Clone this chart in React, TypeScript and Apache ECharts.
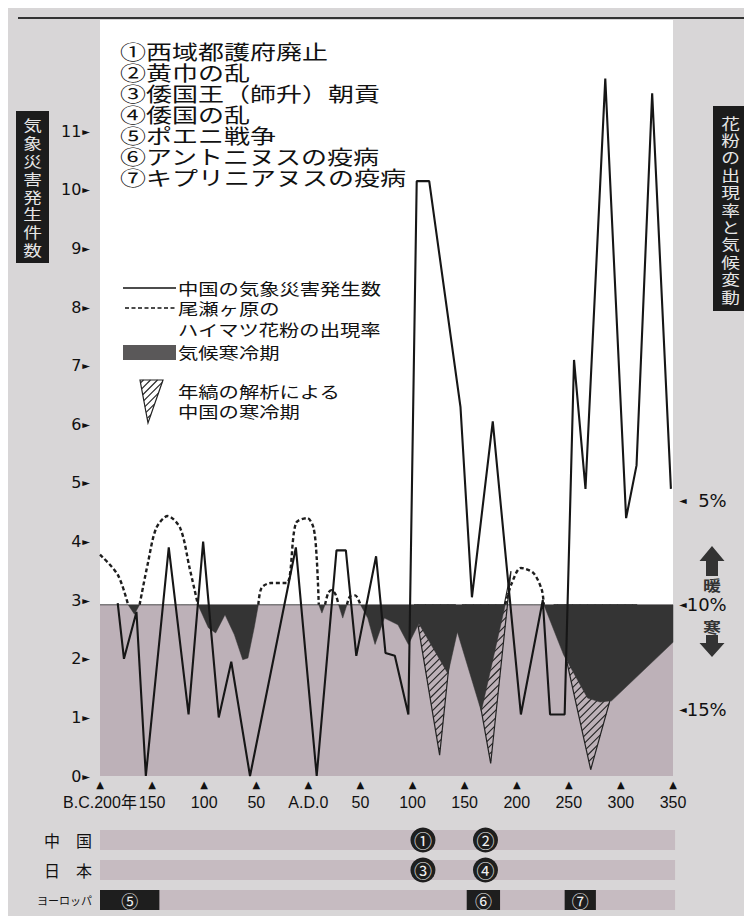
import React, { useEffect, useRef } from "react";
import * as echarts from "echarts";

// ---------- DATA ----------
const eventList = [
  "①西域都護府廃止",
  "②黄巾の乱",
  "③倭国王（師升）朝貢",
  "④倭国の乱",
  "⑤ポエニ戦争",
  "⑥アントニヌスの疫病",
  "⑦キプリニアヌスの疫病",
];

const xTickYears = [-200, -150, -100, -50, 0, 50, 100, 150, 200, 250, 300, 350];
const xTickLabels = ["B.C.200年", "150", "100", "50", "A.D.0", "50", "100", "150", "200", "250", "300", "350"];
const leftTickValues = [0, 1, 2, 3, 4, 5, 6, 7, 8, 9, 10, 11];
const rightTickValues = [5, 10, 15];

// 中国の気象災害発生数
const disasterYears = [-183, -177, -165, -156, -134, -115, -101, -86, -74, -56, -12, 8, 27, 36, 46, 65, 74, 83, 96, 104, 116, 146, 157, 177, 204, 225, 232, 246, 255, 266, 285, 305, 315, 330, 348];
const disasterCounts = [2.95, 2.0, 2.8, 0, 3.9, 1.05, 4.0, 1.0, 1.95, 0, 3.9, 0, 3.85, 3.85, 2.05, 3.75, 2.1, 2.05, 1.05, 10.15, 10.15, 6.3, 3.05, 6.05, 1.05, 3.0, 1.05, 1.05, 7.1, 4.9, 11.9, 4.4, 5.3, 11.65, 4.9];

// 尾瀬ヶ原のハイマツ花粉の出現率 (%)
const pollenYears = [-200, -183, -173, -167, -162, -154, -146, -135, -123, -114, -106, -96, -89, -80, -71, -63, -58, -52, -48, -45, -36, -21, -12, -1, 5, 8, 10, 13, 16, 19, 22, 26, 29, 33, 37, 40, 45, 50, 57, 64, 73, 86, 96, 106, 134, 143, 166, 189, 195, 204, 216, 224, 226, 245, 268, 280, 291, 350];
const pollenRates = [7.6, 8.56, 10, 10.45, 10, 8.0, 6.33, 5.75, 6.33, 8.24, 10, 11.1, 11.35, 10.48, 11.44, 12.63, 12.55, 11.1, 10, 9.2, 8.96, 8.96, 6.1, 5.85, 6.33, 7.76, 10, 10.4, 10, 9.44, 9.3, 9.5, 10, 10.64, 10, 9.6, 9.55, 10, 10.64, 11.9, 10.64, 10.96, 11.9, 10.9, 13.3, 11.3, 15.1, 10, 9.0, 8.24, 8.48, 9.28, 10, 12.4, 14.47, 14.66, 14.6, 11.8];
const coldThreshold = 10;
const pctAxisMax = 18.2;

// 年縞の解析による中国の寒冷期 (polygons: [year, %])
const varveShapes = [
  [[102, 10], [141, 10], [126, 17.2]],
  [[148, 10], [188, 10], [194.5, 8.39], [175, 17.6]],
  [[236, 10], [315, 10], [271, 17.9]],
];

// bottom rows
const rowNames = ["中　国", "日　本", "ヨーロッパ"];
const rowSpan = [-200, 352];
const circleEventLabels = ["①", "②", "③", "④"];
const circleEventYears = [110, 170, 110, 170];
const circleEventRows = [0, 0, 1, 1];
const periodEventLabels = ["⑤", "⑥", "⑦"];
const periodEventStarts = [-200, 152, 246];
const periodEventEnds = [-143, 184, 276];
const periodEventRows = [2, 2, 2];

// ---------- helpers ----------
const JP = "'Noto Sans CJK JP', 'Noto Sans CJK SC', sans-serif";

// "/" hatch lines clipped to any simple polygon (even-odd pairing)
function hatchLines(pts: number[][], step: number) {
  const sums = pts.map((p) => p[0] + p[1]);
  const lo = Math.min(...sums);
  const hi = Math.max(...sums);
  const out: number[][][] = [];
  for (let c = lo + step / 2; c < hi; c += step) {
    const hits: number[][] = [];
    for (let i = 0; i < pts.length; i++) {
      const a = pts[i];
      const b = pts[(i + 1) % pts.length];
      const fa = a[0] + a[1] - c;
      const fb = b[0] + b[1] - c;
      if ((fa <= 0 && fb > 0) || (fa > 0 && fb <= 0)) {
        const t = fa / (fa - fb);
        hits.push([a[0] + t * (b[0] - a[0]), a[1] + t * (b[1] - a[1])]);
      }
    }
    hits.sort((p, q) => p[0] - q[0]);
    for (let k = 0; k + 1 < hits.length; k += 2) out.push([hits[k], hits[k + 1]]);
  }
  return out;
}

function hatchedShape(pts: number[][], step: number) {
  const children: any[] = [];
  hatchLines(pts, step).forEach((l) => {
    children.push({
      type: "line",
      shape: { x1: l[0][0], y1: l[0][1], x2: l[1][0], y2: l[1][1] },
      style: { stroke: "#222", lineWidth: 1.1 },
    });
  });
  children.push({ type: "polygon", shape: { points: pts }, style: { fill: "none", stroke: "#222", lineWidth: 1.2 } });
  return children;
}

function buildOption() {
  const textEl = (text: string, x: number, y: number, size: number, extra: any = {}) => ({
    type: "text",
    x,
    y,
    z: 10,
    scaleX: extra.scaleX ?? 1.28,
    silent: true,
    style: {
      text,
      fontSize: size,
      fontFamily: JP,
      fill: extra.fill ?? "#111",
      align: extra.align ?? "left",
      verticalAlign: "middle",
      lineHeight: extra.lineHeight,
      fontWeight: extra.fontWeight ?? "normal",
    },
  });

  const graphic: any[] = [];
  // top rule
  graphic.push({ type: "rect", z: 10, shape: { x: 10, y: 9, width: 742, height: 2 }, style: { fill: "#333" } });
  // event list
  eventList.forEach((t, i) => graphic.push(textEl(t, 112, 43 + i * 21, 20, { scaleX: 1.3 })));
  // legend
  graphic.push({ type: "line", z: 10, shape: { x1: 115, y1: 280, x2: 168, y2: 280 }, style: { stroke: "#111", lineWidth: 1.6 } });
  graphic.push(textEl("中国の気象災害発生数", 170, 280, 16, { scaleX: 1.27 }));
  graphic.push({ type: "line", z: 10, shape: { x1: 117, y1: 300, x2: 168, y2: 300 }, style: { stroke: "#111", lineWidth: 1.6, lineDash: [4, 2.5] } });
  graphic.push(textEl("尾瀬ヶ原の", 170, 300, 16, { scaleX: 1.27 }));
  graphic.push(textEl("ハイマツ花粉の出現率", 170, 321, 16, { scaleX: 1.27 }));
  graphic.push({ type: "rect", z: 10, shape: { x: 115, y: 337, width: 53, height: 15 }, style: { fill: "#5a5859" } });
  graphic.push(textEl("気候寒冷期", 170, 344, 16, { scaleX: 1.27 }));
  graphic.push({ type: "group", z: 10, children: hatchedShape([[132, 372], [155, 372], [140, 415]], 7) });
  graphic.push(textEl("年縞の解析による", 170, 383, 16, { scaleX: 1.27 }));
  graphic.push(textEl("中国の寒冷期", 170, 403, 16, { scaleX: 1.27 }));
  // left title
  graphic.push({ type: "rect", z: 10, shape: { x: 8, y: 103, width: 33, height: 152 }, style: { fill: "#1c1c1c" } });
  graphic.push(textEl("気\n象\n災\n害\n発\n生\n件\n数", 24.5, 179, 15, { fill: "#e6e6e6", align: "center", lineHeight: 17.8, scaleX: 1.25 }));
  // right title
  graphic.push({ type: "rect", z: 10, shape: { x: 705, y: 98, width: 35, height: 205 }, style: { fill: "#1c1c1c" } });
  graphic.push(textEl("花\n粉\nの\n出\n現\n率\nと\n気\n候\n変\n動", 722.5, 201, 15, { fill: "#e6e6e6", align: "center", lineHeight: 17.4, scaleX: 1.25 }));
  // warm / cold arrows
  graphic.push({ type: "polygon", z: 10, shape: { points: [[704, 538], [716.5, 553], [710, 553], [710, 568], [698, 568], [698, 553], [691.5, 553]] }, style: { fill: "#333" } });
  graphic.push(textEl("暖", 704, 577, 15, { align: "center", fill: "#333", fontWeight: "bold", scaleX: 1.2 }));
  graphic.push(textEl("寒", 704, 619, 15, { align: "center", fill: "#333", fontWeight: "bold", scaleX: 1.2 }));
  graphic.push({ type: "polygon", z: 10, shape: { points: [[698, 627], [710, 627], [710, 635], [716.5, 635], [704, 649], [691.5, 635], [698, 635]] }, style: { fill: "#333" } });

  const pollenWarm = pollenYears.map((y, i) => [y, pollenRates[i] <= coldThreshold ? pollenRates[i] : "-"]);
  const disasters = disasterYears.map((y, i) => [y, disasterCounts[i]]);

  const labelMap: Record<string, string> = {};
  xTickYears.forEach((y, i) => (labelMap[String(y)] = xTickLabels[i]));

  return {
    animation: false,
    backgroundColor: "#d8d6d7",
    tooltip: { show: false },
    grid: [
      { left: 92, right: 87, top: 12, bottom: 148, show: true, backgroundColor: "#ffffff", borderWidth: 0 },
      { left: 92, right: 87, top: 817, height: 90, show: false },
    ],
    xAxis: [
      {
        type: "value",
        gridIndex: 0,
        min: -200,
        max: 350,
        interval: 50,
        axisLine: { show: false },
        axisTick: { show: false },
        splitLine: { show: false },
        axisLabel: {
          showMinLabel: true,
          showMaxLabel: true,
          margin: 2,
          formatter: (v: number) => `{t|▲}\n{l|${labelMap[String(v)] ?? ""}}`,
          rich: {
            t: { fontSize: 10, lineHeight: 13, color: "#111", fontFamily: "DejaVu Sans" },
            l: { fontSize: 16, lineHeight: 22, color: "#111", fontFamily: "'Liberation Sans', 'Noto Sans CJK JP', sans-serif" },
          },
        },
      },
      { type: "value", gridIndex: 1, min: -200, max: 350, show: false },
    ],
    yAxis: [
      {
        type: "value",
        gridIndex: 0,
        min: 0,
        max: 12.9,
        interval: 1,
        axisLine: { show: false },
        axisTick: { show: false },
        splitLine: { show: false },
        axisLabel: {
          margin: 10,
          formatter: (v: number) => (leftTickValues.indexOf(v) >= 0 ? `{n|${v}}{t|►}` : ""),
          rich: {
            n: { fontSize: 16, color: "#111", fontFamily: "'DejaVu Sans', sans-serif" },
            t: { fontSize: 10, color: "#111", fontFamily: "'DejaVu Sans', sans-serif", padding: [0, 0, 0, 1] },
          },
        },
      },
      {
        type: "value",
        gridIndex: 0,
        position: "right",
        inverse: true,
        min: -18,
        max: pctAxisMax,
        interval: 1,
        axisLine: { show: false },
        axisTick: { show: false },
        splitLine: { show: false },
        axisLabel: {
          margin: 6,
          formatter: (v: number) =>
            rightTickValues.indexOf(v) >= 0 ? (v < 10 ? `{t|◄}{n|  ${v}%}` : `{t|◄}{n|${v}%}`) : "",
          rich: {
            t: { fontSize: 10, color: "#111", fontFamily: "'DejaVu Sans', sans-serif" },
            n: { fontSize: 18, color: "#111", fontFamily: "'DejaVu Sans', sans-serif" },
          },
        },
      },
      {
        type: "category",
        gridIndex: 1,
        data: rowNames,
        inverse: true,
        axisLine: { show: false },
        axisTick: { show: false },
        splitLine: { show: false },
        axisLabel: {
          margin: 8,
          formatter: (v: string) => (v === "ヨーロッパ" ? `{s|${v}}` : `{b|${v}}`),
          rich: {
            b: { fontSize: 16, color: "#111", fontFamily: JP },
            s: { fontSize: 11, color: "#111", fontFamily: JP },
          },
        },
      },
    ],
    series: [
      {
        name: "band",
        type: "line",
        xAxisIndex: 0,
        yAxisIndex: 1,
        data: [],
        symbol: "none",
        silent: true,
        z: 1,
        lineStyle: { width: 0, opacity: 0 },
        markArea: {
          silent: true,
          itemStyle: { color: "#bdb1b8" },
          data: [[{ xAxis: -200, yAxis: coldThreshold }, { xAxis: 350, yAxis: pctAxisMax }]],
        },
      },
      {
        name: "varve",
        type: "custom",
        xAxisIndex: 0,
        yAxisIndex: 1,
        z: 2,
        silent: true,
        data: varveShapes.map((t, i) => [t[0][0], t[0][1], i]),
        renderItem: (params: any, api: any) => {
          const shape = varveShapes[api.value(2)];
          const pts = shape.map((p) => api.coord(p));
          return { type: "group", children: hatchedShape(pts, 7.5) };
        },
      },
      {
        name: "気候寒冷期",
        type: "custom",
        xAxisIndex: 0,
        yAxisIndex: 1,
        z: 3,
        silent: true,
        data: [[pollenYears[0], coldThreshold]],
        renderItem: (params: any, api: any) => {
          const pts: number[][] = [api.coord([pollenYears[0], coldThreshold])];
          pollenYears.forEach((y, i) => pts.push(api.coord([y, Math.max(pollenRates[i], coldThreshold)])));
          pts.push(api.coord([pollenYears[pollenYears.length - 1], coldThreshold]));
          return { type: "polygon", shape: { points: pts }, style: { fill: "#343434", stroke: "#343434", lineWidth: 0.5 } };
        },
      },
      {
        name: "尾瀬ヶ原のハイマツ花粉の出現率",
        type: "line",
        xAxisIndex: 0,
        yAxisIndex: 1,
        data: pollenWarm,
        symbol: "none",
        smooth: 0.3,
        silent: true,
        z: 4,
        lineStyle: { color: "#1e1e1e", width: 2.4, type: [4, 2.6] },
      },
      {
        name: "中国の気象災害発生数",
        type: "line",
        xAxisIndex: 0,
        yAxisIndex: 0,
        data: disasters,
        symbol: "none",
        silent: true,
        z: 5,
        lineStyle: { color: "#161616", width: 2.1 },
      },
      {
        name: "rows",
        type: "custom",
        xAxisIndex: 1,
        yAxisIndex: 2,
        silent: true,
        z: 2,
        encode: { x: [0, 1], y: 2 },
        data: rowNames.map((_, i) => [rowSpan[0], rowSpan[1], i]),
        renderItem: (params: any, api: any) => {
          const s = api.coord([api.value(0), api.value(2)]);
          const e = api.coord([api.value(1), api.value(2)]);
          return { type: "rect", shape: { x: s[0], y: s[1] - 10, width: e[0] - s[0], height: 20 }, style: { fill: "#c6bbc1" } };
        },
      },
      {
        name: "periods",
        type: "custom",
        xAxisIndex: 1,
        yAxisIndex: 2,
        silent: true,
        z: 3,
        encode: { x: [0, 1], y: 2 },
        data: periodEventStarts.map((s, i) => [s, periodEventEnds[i], periodEventRows[i], i]),
        renderItem: (params: any, api: any) => {
          const s = api.coord([api.value(0), api.value(2)]);
          const e = api.coord([api.value(1), api.value(2)]);
          return {
            type: "group",
            children: [
              { type: "rect", shape: { x: s[0], y: s[1] - 10, width: e[0] - s[0], height: 20 }, style: { fill: "#1e1e1e" } },
              {
                type: "text",
                x: (s[0] + e[0]) / 2,
                y: s[1],
                style: { text: periodEventLabels[api.value(3)], fill: "#f0f0f0", fontSize: 17, fontFamily: JP, align: "center", verticalAlign: "middle" },
              },
            ],
          };
        },
      },
      {
        name: "points",
        type: "custom",
        xAxisIndex: 1,
        yAxisIndex: 2,
        silent: true,
        z: 3,
        encode: { x: 0, y: 1 },
        data: circleEventYears.map((y, i) => [y, circleEventRows[i], i]),
        renderItem: (params: any, api: any) => {
          const c = api.coord([api.value(0), api.value(1)]);
          return {
            type: "group",
            children: [
              { type: "circle", shape: { cx: c[0], cy: c[1], r: 12.5 }, style: { fill: "#1e1e1e" } },
              {
                type: "text",
                x: c[0],
                y: c[1],
                style: { text: circleEventLabels[api.value(2)], fill: "#f0f0f0", fontSize: 18, fontFamily: JP, align: "center", verticalAlign: "middle" },
              },
            ],
          };
        },
      },
    ],
    graphic,
  };
}

export default function App() {
  const ref = useRef<HTMLDivElement>(null);
  useEffect(() => {
    if (!ref.current) return;
    const chart = echarts.init(ref.current, undefined, { renderer: "svg" });
    chart.setOption(buildOption() as any);
    return () => chart.dispose();
  }, []);
  return <div ref={ref} style={{ position: "fixed", left: 0, top: 0, width: 752, height: 916 }} />;
}
